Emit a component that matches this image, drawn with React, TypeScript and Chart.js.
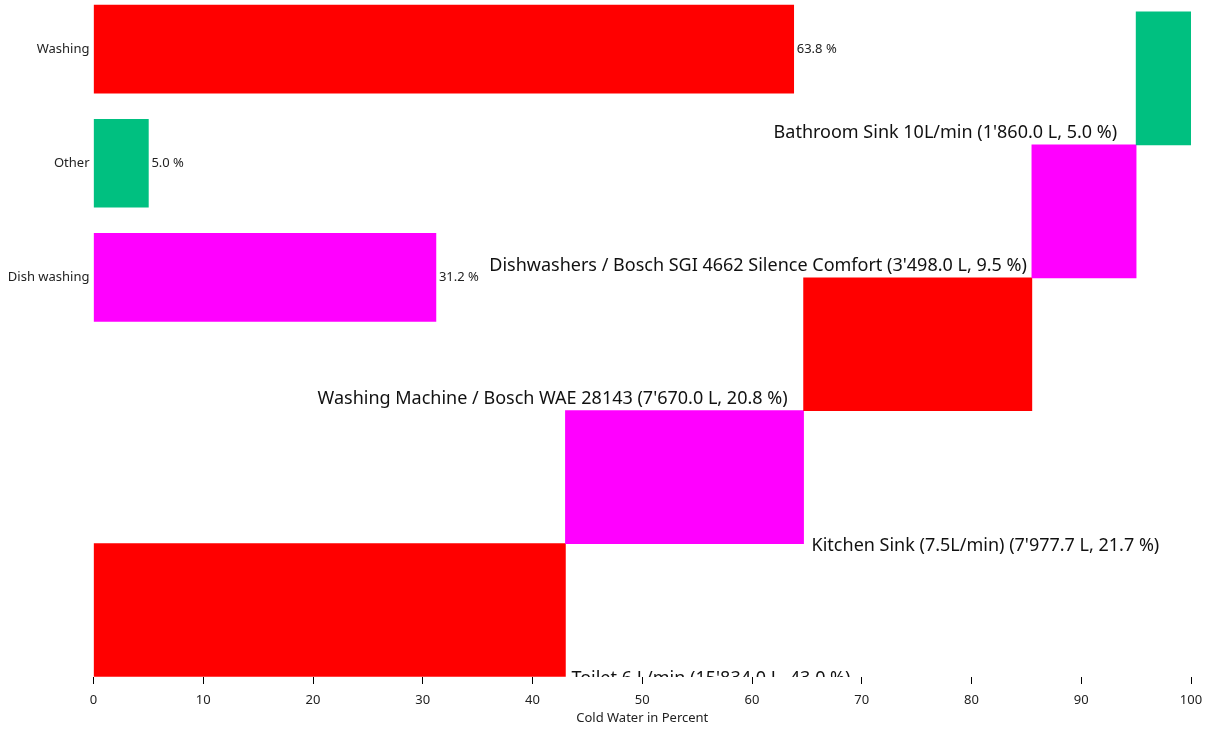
import React, { useEffect, useRef } from 'react';
import { Chart, registerables } from 'chart.js';

Chart.register(...registerables);

// ---- data ----
const summaryCategories = ['Washing', 'Other', 'Dish washing'];
const summaryValues = [63.8, 5.0, 31.2];
const summaryColors = ['#FF0000', '#00C080', '#FF00FF'];

const stepNames = [
  'Toilet 6 L/min',
  'Kitchen Sink (7.5L/min)',
  'Washing Machine / Bosch WAE 28143',
  'Dishwashers / Bosch SGI 4662 Silence Comfort',
  'Bathroom Sink 10L/min',
];
const stepLiters = [15834.0, 7977.7, 7670.0, 3498.0, 1860.0];
const stepPercents = [43.0, 21.7, 20.8, 9.5, 5.0];
const stepColors = ['#FF0000', '#FF00FF', '#FF0000', '#FF00FF', '#00C080'];

const xTickValues = [0, 10, 20, 30, 40, 50, 60, 70, 80, 90, 100];
const xTitle = 'Cold Water in Percent';

// ---- label styling (not data) ----
const labelSide = ['right', 'right', 'left', 'left', 'left'];
const labelGap = [6, 8, 16, 5, 19];

const FONT = '"Noto Sans", "Open Sans", sans-serif';

function fmtLiters(n: number): string {
  const [intPart, dec] = n.toFixed(1).split('.');
  const withSep = intPart.replace(/\B(?=(\d{3})+(?!\d))/g, "'");
  return withSep + '.' + dec;
}

function stepRanges(): [number, number][] {
  const out: [number, number][] = [];
  let acc = 0;
  for (const p of stepPercents) {
    const start = acc;
    acc = Math.round((acc + p) * 10) / 10;
    out.push([start, acc]);
  }
  return out;
}

const labelPlugin = {
  id: 'waterLabels',
  afterDatasetsDraw(chart: any) {
    const ctx = chart.ctx as CanvasRenderingContext2D;
    const area = chart.chartArea;
    ctx.save();
    // summary labels
    const m0 = chart.getDatasetMeta(0);
    ctx.font = `13px ${FONT}`;
    ctx.fillStyle = '#222';
    ctx.textAlign = 'left';
    ctx.textBaseline = 'middle';
    m0.data.forEach((bar: any, i: number) => {
      ctx.fillText(summaryValues[i].toFixed(1) + ' %', bar.x + 3, bar.y);
    });
    // step labels
    ctx.beginPath();
    ctx.rect(0, 0, chart.width, area.bottom);
    ctx.clip();
    const m1 = chart.getDatasetMeta(1);
    ctx.font = `18px ${FONT}`;
    ctx.fillStyle = '#111';
    m1.data.forEach((bar: any, i: number) => {
      const p = bar.getProps(['x', 'y', 'base', 'height'], true);
      const bottom = p.y + p.height / 2;
      const start = Math.min(p.x, p.base);
      const end = Math.max(p.x, p.base);
      const text = `${stepNames[i]} (${fmtLiters(stepLiters[i])} L, ${stepPercents[i].toFixed(1)} %)`;
      if (labelSide[i] === 'right') {
        ctx.textAlign = 'left';
        ctx.fillText(text, end + labelGap[i], bottom + 2);
      } else {
        ctx.textAlign = 'right';
        ctx.fillText(text, start - labelGap[i], bottom - 12);
      }
    });
    ctx.restore();
  },
};

export default function App() {
  const canvasRef = useRef<HTMLCanvasElement | null>(null);

  useEffect(() => {
    if (!canvasRef.current) return;
    const ranges = stepRanges();
    const chart = new Chart(canvasRef.current, {
      type: 'bar',
      data: {
        datasets: [
          {
            label: 'Summary',
            yAxisID: 'y',
            xAxisID: 'x',
            grouped: false,
            data: summaryValues.map((v, i) => ({ x: v, y: i })) as any,
            backgroundColor: summaryColors,
            borderWidth: 0,
            barThickness: 88,
          },
          {
            label: 'Steps',
            yAxisID: 'y2',
            xAxisID: 'x',
            grouped: false,
            data: ranges.map((r, i) => ({ x: r, y: i })) as any,
            backgroundColor: stepColors,
            borderWidth: 0,
            barThickness: 133,
          },
        ],
      },
      options: {
        indexAxis: 'y',
        animation: false,
        responsive: true,
        maintainAspectRatio: false,
        layout: { padding: { top: 0, right: 20, bottom: 0, left: 0 } },
        plugins: {
          legend: { display: false },
          tooltip: { enabled: false },
          title: { display: false },
        },
        scales: {
          x: {
            type: 'linear',
            position: 'bottom',
            stacked: false,
            min: 0,
            max: 100,
            afterBuildTicks: (scale: any) => {
              scale.ticks = xTickValues.map((v) => ({ value: v }));
            },
            ticks: {
              font: { family: FONT, size: 13 },
              color: '#222',
              padding: 8,
            },
            grid: {
              display: true,
              drawOnChartArea: false,
              drawTicks: true,
              tickLength: 7,
              color: '#000',
            },
            border: { display: false },
            title: {
              display: true,
              text: xTitle,
              font: { family: FONT, size: 13 },
              color: '#222',
              padding: { top: 0, bottom: 3 },
            },
            afterFit: (scale: any) => {
              scale.height = 52;
            },
          },
          y: {
            type: 'linear',
            position: 'left',
            reverse: true,
            offset: false,
            min: -0.431,
            max: 5.502,
            afterBuildTicks: (scale: any) => {
              scale.ticks = summaryCategories.map((_, i) => ({ value: i }));
            },
            ticks: {
              font: { family: FONT, size: 13 },
              color: '#222',
              padding: 4,
              callback: (v: any) => summaryCategories[v as number] ?? '',
            },
            grid: { display: false, drawTicks: false },
            border: { display: false },
            afterFit: (scale: any) => {
              scale.width = 93.5;
              scale.paddingTop = 0;
              scale.paddingBottom = 0;
            },
          },
          y2: {
            type: 'linear',
            position: 'left',
            display: false,
            offset: false,
            min: -0.504,
            max: 4.59,
            afterBuildTicks: (scale: any) => {
              scale.ticks = stepNames.map((_, i) => ({ value: i }));
            },
            grid: { display: false },
          },
        },
      } as any,
      plugins: [labelPlugin],
    });
    return () => chart.destroy();
  }, []);

  return (
    <div style={{ position: 'fixed', left: 0, top: 0, width: 1211, height: 729, background: '#fff' }}>
      <canvas ref={canvasRef} />
    </div>
  );
}
